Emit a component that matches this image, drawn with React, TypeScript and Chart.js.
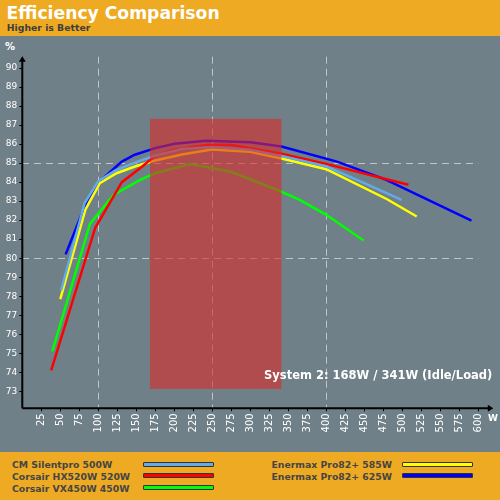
import React, { useEffect, useRef } from "react";
import { Chart, registerables } from "chart.js";

Chart.register(...registerables);

// ---------- data ----------
const SERIES_NAMES = [
  "CM Silentpro 500W",
  "Corsair HX520W 520W",
  "Corsair VX450W 450W",
  "Enermax Pro82+ 585W",
  "Enermax Pro82+ 625W",
];
const SERIES_COLORS = ["#64AAE6", "#FF0000", "#00FF00", "#FFFF00", "#0000FF"];

const cmSilentproLoad = [51, 82, 100, 122, 150, 175, 210, 250, 300, 341, 400, 450, 499];
const cmSilentproEff = [78.3, 82.9, 84.05, 84.6, 85.05, 85.4, 85.75, 85.85, 85.7, 85.38, 84.82, 83.95, 83.07];

const hx520Load = [38, 96, 131, 157, 175, 200, 243, 275, 341, 400, 508];
const hx520Eff = [74.1, 81.6, 84.0, 84.8, 85.4, 85.7, 85.96, 85.95, 85.5, 84.96, 83.86];

const vx450Load = [39.5, 89, 120, 155, 175, 221, 273, 335, 365, 400, 449];
const vx450Eff = [75.1, 81.8, 83.33, 84.12, 84.47, 84.95, 84.56, 83.6, 83.07, 82.28, 80.93];

const pro585Load = [50, 83, 102, 124, 150, 175, 210, 249, 300, 341, 400, 480, 519];
const pro585Eff = [77.84, 82.55, 83.95, 84.47, 84.85, 85.14, 85.45, 85.72, 85.6, 85.24, 84.68, 83.1, 82.19];

const pro625Load = [57, 85, 100, 131, 148, 175, 200, 242, 300, 341, 414, 479, 591];
const pro625Eff = [80.2, 83.0, 83.98, 85.08, 85.44, 85.79, 86.02, 86.18, 86.1, 85.87, 85.08, 84.12, 81.98];

const SERIES_LOADS = [cmSilentproLoad, hx520Load, vx450Load, pro585Load, pro625Load];
const SERIES_EFFS = [cmSilentproEff, hx520Eff, vx450Eff, pro585Eff, pro625Eff];

const X_TICKS = [25, 50, 75, 100, 125, 150, 175, 200, 225, 250, 275, 300, 325, 350, 375, 400, 425, 450, 475, 500, 525, 550, 575, 600];
const Y_TICKS = [73, 74, 75, 76, 77, 78, 79, 80, 81, 82, 83, 84, 85, 86, 87, 88, 89, 90];
const X_GRID = [100, 250, 400];
const Y_GRID = [80, 85];

const IDLE_LOAD_W = [168, 341];
const HIGHLIGHT_EFF = [73.12, 87.33];
const ANNOTATION = "System 2: 168W / 341W (Idle/Load)";

const TITLE = "Efficiency Comparison";
const SUBTITLE = "Higher is Better";

// ---------- styles ----------
const BG = "#6F8088";
const ORANGE = "#EEAA22";
const FONT = "'DejaVu Sans', Verdana, sans-serif";
const GRID_COLOR = "#C4C4C4";

const overlayPlugin = {
  id: "overlay",
  afterDatasetsDraw(chart: any) {
    const { ctx, scales, chartArea } = chart;
    const x = scales.x;
    const y = scales.y;
    ctx.save();
    // idle/load highlight
    const x0 = x.getPixelForValue(IDLE_LOAD_W[0]);
    const x1 = x.getPixelForValue(IDLE_LOAD_W[1]);
    const y0 = y.getPixelForValue(HIGHLIGHT_EFF[1]);
    const y1 = y.getPixelForValue(HIGHLIGHT_EFF[0]);
    ctx.fillStyle = "rgba(220,40,40,0.6)";
    ctx.fillRect(x0, y0, x1 - x0, y1 - y0);

    // axes with arrows
    const ax = chartArea.left;
    const ay = chartArea.bottom;
    ctx.strokeStyle = "#000";
    ctx.fillStyle = "#000";
    ctx.lineWidth = 2;
    ctx.beginPath();
    ctx.moveTo(ax, ay);
    ctx.lineTo(ax, chartArea.top + 4);
    ctx.moveTo(ax, ay);
    ctx.lineTo(chartArea.right + 11, ay);
    ctx.stroke();
    ctx.beginPath();
    ctx.moveTo(ax, chartArea.top - 0.5);
    ctx.lineTo(ax - 3.5, chartArea.top + 5);
    ctx.lineTo(ax + 3.5, chartArea.top + 5);
    ctx.closePath();
    ctx.fill();
    const ex = chartArea.right + 15;
    ctx.beginPath();
    ctx.moveTo(ex, ay);
    ctx.lineTo(ex - 5.5, ay - 3.5);
    ctx.lineTo(ex - 5.5, ay + 3.5);
    ctx.closePath();
    ctx.fill();

    // annotation
    ctx.fillStyle = "#FFFFFF";
    ctx.font = `bold 11.5px ${FONT}`;
    ctx.textAlign = "right";
    ctx.textBaseline = "alphabetic";
    ctx.fillText(ANNOTATION, chartArea.right + 14, chartArea.bottom - 29);
    ctx.restore();
  },
};

function ChartCanvas() {
  const ref = useRef<HTMLCanvasElement | null>(null);
  useEffect(() => {
    if (!ref.current) return;
    const datasets = SERIES_NAMES.map((name, i) => ({
      label: name,
      data: SERIES_LOADS[i].map((w, j) => ({ x: w, y: SERIES_EFFS[i][j] })),
      borderColor: SERIES_COLORS[i],
      backgroundColor: SERIES_COLORS[i],
      borderWidth: 2.5,
      pointRadius: 0,
      tension: 0,
      fill: false,
    }));
    const chart = new Chart(ref.current, {
      type: "line",
      data: { datasets },
      options: {
        animation: false,
        responsive: false,
        devicePixelRatio: 1,
        layout: { padding: { left: 0, right: 21.7, top: 20.7, bottom: 0 } },
        plugins: {
          legend: { display: false },
          tooltip: { enabled: false },
          title: { display: false },
        },
        scales: {
          x: {
            type: "linear",
            min: 0,
            max: 600,
            afterBuildTicks: (s: any) => {
              s.ticks = X_TICKS.map((v) => ({ value: v }));
            },
            afterFit: (s: any) => {
              s.height = 43.7;
            },
            ticks: {
              color: "#FFFFFF",
              font: { family: FONT, size: 10 },
              minRotation: 90,
              maxRotation: 90,
              padding: 2,
              autoSkip: false,
            },
            grid: {
              color: (c: any) => (c.tick && X_GRID.includes(c.tick.value) ? GRID_COLOR : "rgba(0,0,0,0)"),
              tickColor: "#000",
              tickLength: 3,
              tickWidth: 1,
              tickBorderDash: [],
              lineWidth: 1,
            },
            border: { display: false, dash: [7, 5] },
          },
          y: {
            type: "linear",
            min: 72.1,
            max: 90.6,
            afterBuildTicks: (s: any) => {
              s.ticks = Y_TICKS.map((v) => ({ value: v }));
            },
            afterFit: (s: any) => {
              s.width = 22.3;
            },
            ticks: {
              color: "#FFFFFF",
              font: { family: FONT, size: 9 },
              padding: 2,
              autoSkip: false,
            },
            grid: {
              color: (c: any) => (c.tick && Y_GRID.includes(c.tick.value) ? GRID_COLOR : "rgba(0,0,0,0)"),
              tickColor: "#000",
              tickLength: 3,
              tickWidth: 1,
              tickBorderDash: [],
              lineWidth: 1,
            },
            border: { display: false, dash: [7, 5] },
          },
        },
      } as any,
      plugins: [overlayPlugin],
    });
    return () => chart.destroy();
  }, []);
  return (
    <canvas
      ref={ref}
      width={500}
      height={416}
      style={{ position: "absolute", left: 0, top: 36, width: 500, height: 416 }}
    />
  );
}

export default function App() {
  const legendPos = (i: number) => {
    const col = i < 3 ? 0 : 1;
    const row = i < 3 ? i : i - 3;
    return { textX: col === 0 ? 12 : 271.5, swX: col === 0 ? 143 : 402, baseline: 468 + row * 11.75 };
  };
  return (
    <div
      style={{
        position: "fixed",
        left: 0,
        top: 0,
        width: 500,
        height: 500,
        background: BG,
        overflow: "hidden",
        fontFamily: FONT,
      }}
    >
      <div style={{ position: "absolute", left: 0, top: 0, width: 500, height: 36, background: ORANGE }} />
      <div
        style={{
          position: "absolute",
          left: 6.5,
          top: 4.6,
          fontSize: 17.2,
          lineHeight: 1,
          fontWeight: "bold",
          color: "#FFFFFF",
          whiteSpace: "nowrap",
        }}
      >
        {TITLE}
      </div>
      <div
        style={{
          position: "absolute",
          left: 6.8,
          top: 23.4,
          fontSize: 9.3,
          lineHeight: 1,
          fontWeight: "bold",
          color: "#3E3E3E",
          whiteSpace: "nowrap",
        }}
      >
        {SUBTITLE}
      </div>
      <div
        style={{
          position: "absolute",
          left: 5,
          top: 42,
          fontSize: 10,
          lineHeight: 1,
          fontWeight: "bold",
          color: "#FFFFFF",
        }}
      >
        %
      </div>
      <ChartCanvas />
      <div
        style={{
          position: "absolute",
          left: 488,
          top: 414,
          fontSize: 9,
          lineHeight: 1,
          fontWeight: "bold",
          color: "#FFFFFF",
        }}
      >
        W
      </div>
      <div style={{ position: "absolute", left: 0, top: 452, width: 500, height: 48, background: ORANGE }} />
      {SERIES_NAMES.map((name, i) => {
        const p = legendPos(i);
        return (
          <React.Fragment key={name}>
            <div
              style={{
                position: "absolute",
                left: p.textX,
                top: p.baseline - 0.846 * 9.3,
                fontSize: 9.3,
                lineHeight: 1,
                fontWeight: "bold",
                color: "#454545",
                whiteSpace: "nowrap",
              }}
            >
              {name}
            </div>
            <div
              style={{
                position: "absolute",
                left: p.swX,
                top: p.baseline - 6.5,
                width: 71,
                height: 5,
                boxSizing: "border-box",
                border: "1px solid #333",
                borderRadius: 1,
                background: SERIES_COLORS[i],
              }}
            />
          </React.Fragment>
        );
      })}
    </div>
  );
}
